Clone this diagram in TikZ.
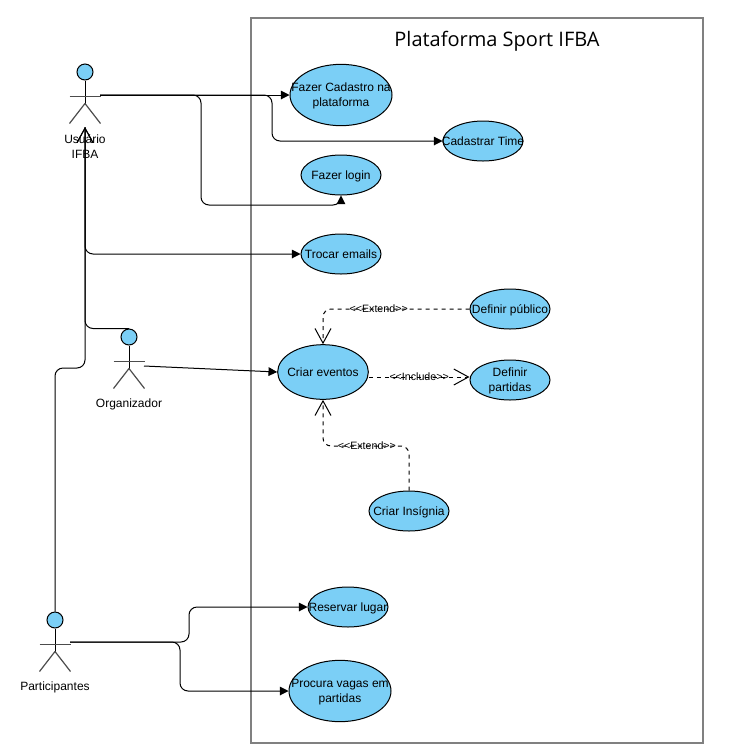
\documentclass[tikz,border=0pt]{standalone}
\usepackage{fontspec}
\setmainfont{Liberation Sans}
\newfontfamily\titlefont{Open Sans}
\usepackage{xcolor}
\usetikzlibrary{shapes.geometric,arrows.meta}
\definecolor{casefill}{HTML}{7BCFF6}
\definecolor{framegray}{HTML}{808080}
\tikzset{
    usecase/.style = {draw, ellipse, fill = casefill, inner sep = -45pt, text depth = 0pt, align = center,
        font = \fontsize{9}{11.2}\selectfont, minimum width = 60pt, minimum height = 30pt},
    bigcase/.style = {usecase, minimum width = 76.5pt, minimum height = 46pt},
    head/.style = {draw, circle, fill = casefill, inner sep = 0pt, minimum size = 12pt},
    actorlabel/.style = {align = center, font = \fontsize{9}{11.2}\selectfont},
    tag/.style = {font = \fontsize{8}{9.5}\selectfont},
    limb/.style = {draw = black!70, line width = 0.9pt},
    link/.style = {-{Triangle[length = 6.5pt, width = 6.5pt]}, rounded corners = 6pt},
    openlink/.style = {-{Straight Barb[length = 11pt, width = 12pt]}, rounded corners = 6pt},
    relation/.style = {openlink, dashed}
}
\newcommand{\stickman}[1]{
    \draw (#1.south) -- ++(0,23);
    \draw[limb] ([yshift=-12pt]#1.south) ++(-15.5,0) -- ++(31,0);
    \draw[limb] ([yshift=-17.25pt]#1.south) -- ++(-15.5,20);
    \draw[limb] ([yshift=-17.25pt]#1.south) -- ++(15.5,20);
}
\begin{document}
\begin{tikzpicture}[x = 0.75pt, y = -0.75pt, line width = 0.75pt]
    \useasboundingbox (0,0) rectangle (733,744);
    \draw[framegray, line width = 1.5pt] (251,18) rectangle (703,743);
    \node[font = \titlefont\fontsize{15}{18}\selectfont] (title) at (497,41) {Plataforma Sport IFBA};

    % actors
    \node[head] (usuario) at (85,72) {};
    \stickman{usuario}
    \node[actorlabel] (usuario label) at (85,147) {Usuário\\IFBA};
    \coordinate (usuario hand) at (100,95);
    \coordinate (usuario foot) at (85,127);

    \node[head] (organizador) at (129,337) {};
    \stickman{organizador}
    \node[actorlabel] (organizador label) at (129,404) {Organizador};
    \coordinate (organizador hand) at (144,366);

    \node[head] (participantes) at (55,620) {};
    \stickman{participantes}
    \node[actorlabel] (participantes label) at (55,687) {Participantes};
    \coordinate (participantes hand) at (70,642);

    % use cases
    \node[bigcase] (cadastro) at (341,95) {Fazer Cadastro na\\plataforma};
    \node[usecase] (time) at (483,141) {Cadastrar Time};
    \node[usecase] (login) at (341,175) {Fazer login};
    \node[usecase] (emails) at (341,254) {Trocar emails};
    \node[usecase] (publico) at (510,309) {Definir público};
    \node[usecase, minimum width = 68pt, minimum height = 41pt] (eventos) at (323,372) {Criar eventos};
    \node[usecase] (partidas) at (510,380) {Definir\\partidas};
    \node[usecase] (insignia) at (409,511) {Criar Insígnia};
    \node[usecase] (lugar) at (348,607) {Reservar lugar};
    \node[bigcase] (vagas) at (340,691) {Procura vagas em\\partidas};

    % connectors
    \draw[link] (usuario hand) -- (cadastro.west |- usuario hand);
    \draw[link] (usuario hand) -| (272,141) -- (time.west);
    \draw[link] (usuario hand) -| (201,205) -| (login.south);
    \draw[link] (usuario foot) |- (emails.west);
    \draw[openlink] (organizador.north) -| (usuario foot);
    \draw[openlink] (participantes.north) |- (85,368) -- (usuario foot);
    \draw[link] (organizador hand) -- (eventos.west);
    \draw[link] (participantes hand) -| (189,607) -- (lugar.west);
    \draw[link] (participantes hand) -| (180,691) -- (vagas.west);

    \draw[relation] (publico.west) -| node[tag, pos = 0.31] (tag one) {<{}<Extend>{}>} (eventos.north);
    \draw[relation] (eventos.east |- 0,377) -- node[tag, midway] (tag two) {<{}<Include>{}>} (partidas.west |- 0,377);
    \draw[relation] (insignia.north) |- (323,446) node[tag, pos = 0.745] (tag three) {<{}<Extend>{}>} -- (eventos.south);
\end{tikzpicture}
\end{document}
